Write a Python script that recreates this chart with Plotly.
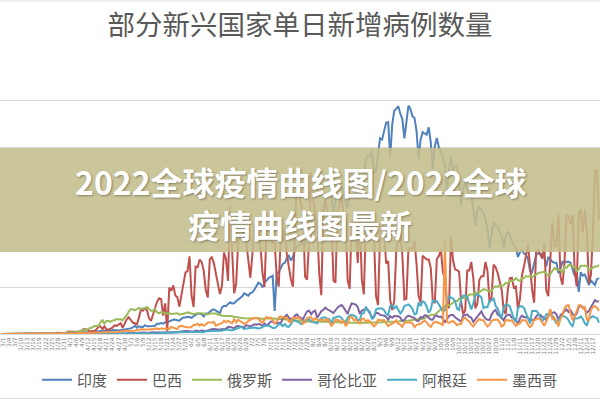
import plotly.graph_objects as go
import pandas as pd

# ---------------- categories (daily, 2020-02-29 .. 2020-12-20) ----------------
dates = pd.date_range("2020-02-29", "2020-12-20", freq="D")
categories = [f"{d.month}/{d.day}" for d in dates]
tick_labels = categories[1:-3:3]

# ---------------- series values (thousands of new cases per day) --------------
india_feb = [0]
india_mar = [0,0,0,0,0,0,0,0,0,0, 0,0,0,0,0,0,0,0,0,0.1, 0.1,0.1,0.1,0.1,0.1,0.1,0.1,0.2,0.1,0.2, 0.3]
india_apr = [0.4,0.4,0.5,0.6,0.5,0.7,0.6,0.5,0.8,0.9, 0.9,0.8,0.8,1.2,1.0,1.1,1.0,1.3,1.5,1.3, 1.5,1.4,1.3,1.7,1.8,1.6,1.5,1.6,1.8,1.9]
india_may = [2.2,2.3,2.4,2.8,3.5,2.7,3.3,3.0,3.0,3.8, 3.3,3.3,3.2,3.4,3.6,4.4,4.4,4.7,4.4,5.0, 5.0,5.5,5.9,6.2,6.1,5.8,5.7,6.5,7.1,7.1, 7.4]
india_jun = [7.3,6.9,7.6,8.2,8.7,8.8,8.4,7.5,8.8,8.8, 9.7,10.2,10.6,10.2,9.5,8.9,11.4,12.0,12.0,12.8, 13.6,13.1,13.2,14.0,14.8,15.2,16.2,17.4,17.0,16.4]
india_jul = [17.5,17.8,19.0,20.5,22.0,21.5,20.0,22.0,23.0,24.0, 24.5,25.0,9.9,26.0,26.5,28.5,30.0,30.5,32.5,33.5, 31.5,33.0,36.0,37.5,38.0,38.5,40.0,38.0,41.0,44.0, 47.0]
india_aug = [50.0,49.0,47.5,48.0,50.0,53.0,58.0,58.5,61.0,59.0, 51.5,58.0,64.0,62.5,63.0,61.5,56.0,54.0,63.0,68.0, 68.0,69.0,69.5,61.0,60.5,67.0,75.0,76.5,76.0,78.5, 69.0]
india_sep = [69.9,78.4,83.9,83.3,86.4,90.6,90.8,75.8,89.7,95.7, 96.6,97.6,94.4,92.1,83.8,90.1,97.9,96.4,93.3,92.6, 86.9,75.1,83.3,86.5,86.1,85.4,88.6,82.2,70.6,80.5]
india_oct = [84.0,80.0,78.0,75.0,73.0,61.0,71.0,76.0,70.0,72.0, 72.0,65.0,55.0,62.0,66.0,62.0,60.0,60.0,54.0,46.5, 53.0,54.5,53.0,52.0,49.0,44.5,37.0,43.0,48.0,46.5, 46.0]
india_nov = [44.0,42.0,37.0,42.0,44.0,42.0,40.0,38.0,37.0,33.0, 35.0,36.0,34.5,34.0,32.0,27.0,26.5,31.0,34.0,34.5, 34.5,34.0,33.0,29.0,33.0,32.0,31.0,30.5,30.5,26.0]
india_dec = [28.0,31.0,30.5,31.0,31.0,30.5,28.0,25.0,27.0,18.0, 26.5,25.0,25.5,23.5,21.0,23.0,22.0,21.0,23.5,24.0]

brazil_feb = [0]
brazil_mar = [0,0,0,0,0,0,0,0,0,0, 0,0,0,0,0.1,0,0,0.1,0.1,0.1, 0.2,0.3,0.2,0.3,0.3,0.3,0.2,0.5,0.5,0.5, 0.4]
brazil_apr = [0.3,1.1,1.1,1.0,1.2,1.1,0.9,0.9,1.6,2.2, 1.9,1.8,1.1,1.2,1.3,1.8,3.1,3.3,2.1,3.3, 1.9,1.9,2.3,2.7,3.7,3.5,4.0,4.7,2.6,4.6]
brazil_may = [6.3,7.2,6.2,4.9,4.6,4.1,6.9,10.5,10.0,11.1, 10.2,6.8,5.6,8.6,11.4,13.9,15.3,14.9,7.9,13.1, 1.2,19.9,18.5,20.8,16.5,15.8,11.7,16.3,20.6,26.4, 26.9]
brazil_jun = [33.3,16.4,11.6,28.9,28.6,31.9,30.8,27.1,18.9,15.7, 32.1,32.9,30.4,25.9,21.7,17.1,20.6,34.9,32.2,22.8, 54.8,34.7,17.5,21.4,39.4,42.7,39.5,46.9,38.7,30.5]
brazil_jul = [24.1,33.8,46.7,48.1,42.2,37.9,26.1,20.2,45.3,45.0, 42.6,39.0,39.0,24.8,20.3,41.9,39.9,45.4,34.2,28.5, 23.5,20.3,41.0,67.9,59.9,55.9,51.1,24.6,23.3,40.8, 69.1]
brazil_aug = [57.8,52.4,45.4,25.8,16.6,51.6,57.2,53.1,50.2,49.9, 23.0,22.0,52.2,55.2,60.1,50.6,49.3,23.1,19.4,47.8, 49.3,45.3,30.4,50.0,23.4,17.0,47.1,47.8,44.2,41.4, 41.3]
brazil_sep = [16.2,12.4,42.7,46.9,43.8,30.2,31.3,14.5,10.3,14.3, 35.8,40.6,43.7,33.5,14.8,15.2,36.7,36.8,36.3,39.8, 30.0,16.4,13.4,33.5,32.8,31.9,31.9,28.4,14.3,13.2]
brazil_oct = [32.1,33.4,36.2,26.3,24.0,13.1,11.1,41.9,31.6,27.7, 27.4,26.7,13.6,8.4,10.2,27.2,27.2,30.9,24.1,11.0, 13.0,23.2,24.8,24.8,30.9,26.9,13.5,15.7,29.8,28.6, 26.1]
brazil_nov = [22.3,18.9,10.1,8.6,18.8,23.9,24.1,19.8,20.3,10.9, 15.0,25.0,29.0,33.9,38.3,29.1,19.1,13.4,35.3,35.9, 34.1,32.3,38.4,18.6,16.2,31.1,47.9,37.6,37.6,51.1]
brazil_dec = [24.5,21.1,31.1,50.9,50.4,46.9,51.1,26.8,20.4,51.1, 53.5,43.4,53.3,43.9,21.8,25.2,42.5,70.6,69.8,48.9]

russia_feb = [0]
russia_mar = [0,0,0,0,0,0,0,0,0,0, 0,0,0,0,0,0,0,0,0.1,0.1, 0.1,0.1,0.1,0.1,0.2,0.2,0.2,0.2,0.3,0.3, 0.5]
russia_apr = [0.4,0.8,0.6,0.6,0.7,1.0,1.2,1.2,1.5,1.8, 1.7,2.2,2.6,2.8,3.4,3.4,3.4,4.8,6.1,4.3, 5.6,5.6,5.2,5.8,5.9,6.4,6.2,6.4,5.8,7.1]
russia_may = [7.9,9.6,10.6,10.6,10.1,10.6,11.2,10.8,10.8,11.0, 11.6,10.9,10.0,10.0,10.6,9.2,8.9,9.3,9.3,8.8, 9.0,8.9,8.6,8.6,8.9,8.9,8.3,8.4,8.6,8.9, 9.3]
russia_jun = [9.0,8.9,8.5,8.8,8.7,8.9,8.9,8.6,8.6,8.4, 8.8,8.8,8.7,8.8,8.2,8.2,7.8,7.8,7.9,7.9, 7.7,7.6,7.4,7.2,7.1,6.8,6.9,6.8,6.7,6.7]
russia_jul = [6.6,6.6,6.8,6.6,6.7,6.6,6.4,6.6,6.5,6.6, 6.6,6.6,6.5,6.2,6.4,6.4,6.4,6.2,6.1,6.1, 5.8,5.9,5.8,5.8,5.8,5.8,5.6,5.4,5.5,5.5, 5.5]
russia_aug = [5.4,5.4,5.4,5.2,5.2,5.2,5.2,5.2,5.1,5.1, 5.1,5.0,5.1,5.1,5.1,4.9,4.8,4.8,4.9,4.8, 4.8,4.9,4.9,4.7,4.7,4.7,4.7,4.8,4.9,4.9, 4.7]
russia_sep = [4.7,4.7,4.9,5.0,5.2,5.2,5.2,5.1,5.2,5.4, 5.4,5.4,5.5,5.5,5.5,5.7,5.8,5.9,6.1,6.1, 6.2,6.4,6.4,6.6,6.6,7.5,7.9,8.1,8.2,8.2]
russia_oct = [9.0,10.0,10.6,11.3,11.8,12.6,12.2,12.7,13.4,14.2, 14.1,15.1,15.4,15.4,15.5,15.9,16.9,16.9,16.9,17.8, 17.6,17.9,18.4,19.2,19.0,18.6,18.2,18.5,19.8,20.4, 20.2]
russia_nov = [20.8,20.5,20.9,22.0,21.6,22.8,22.7,23.1,24.0,23.1, 22.8,23.8,24.0,24.8,24.6,24.8,24.4,24.8,25.5,26.1, 26.3,26.2,26.7,25.8,25.2,25.7,26.8,28.3,27.5,27.4]
russia_dec = [27.4,26.4,28.9,28.3,29.6,29.7,28.8,29.0,26.9,27.7, 29.2,29.2,29.3,29.2,27.4,28.0,28.6,28.9,28.9,29.6]

colombia_feb = [0]
colombia_mar = [0,0,0,0,0,0,0,0,0,0, 0,0,0,0,0,0,0,0,0,0, 0,0,0.1,0.1,0.1,0.1,0.1,0.1,0.1,0.1, 0.1]
colombia_apr = [0.1,0.1,0.1,0.1,0.1,0.1,0.1,0.1,0.2,0.2, 0.2,0.1,0.2,0.1,0.1,0.2,0.2,0.2,0.1,0.1, 0.2,0.2,0.2,0.3,0.3,0.2,0.3,0.3,0.3,0.3]
colombia_may = [0.3,0.5,0.4,0.3,0.5,0.3,0.5,0.6,0.6,0.6, 0.4,0.6,0.6,0.7,0.6,0.6,0.6,0.6,0.6,0.7, 0.8,0.9,0.8,0.9,0.9,0.7,1.0,1.2,1.2,1.3, 1.3]
colombia_jun = [1.3,1.1,1.0,1.5,1.4,1.2,1.5,1.4,1.2,1.5, 1.9,2.0,2.1,2.0,1.7,1.8,2.1,2.0,2.3,3.0, 3.0,2.8,2.5,3.2,3.4,3.2,3.1,2.9,3.8,3.6]
colombia_jul = [3.2,3.7,4.2,4.0,4.3,4.1,3.4,4.4,3.7,4.2, 5.3,5.4,4.7,4.6,4.8,4.6,6.6,7.4,8.2,6.9, 6.6,6.1,7.9,8.4,7.3,7.0,6.4,8.2,9.7,10.0, 8.5]
colombia_aug = [9.6,10.0,7.0,8.5,9.8,10.3,11.3,10.6,10.2,9.6, 9.0,10.2,11.3,12.0,12.4,11.4,10.1,8.6,11.1,13.1, 12.9,12.6,11.5,8.6,10.0,10.5,10.7,10.3,8.5,7.2, 7.4]
colombia_sep = [9.1,8.9,8.2,8.0,7.9,7.3,6.1,7.6,7.0,7.7, 7.8,7.6,7.0,5.6,6.0,7.3,7.9,7.5,7.2,6.8, 5.7,5.5,7.3,7.0,8.0,7.9,7.0,6.2,6.1,7.7]
colombia_oct = [7.9,7.3,7.5,6.5,5.2,6.2,7.7,8.1,8.1,7.2, 6.5,6.1,5.3,7.8,8.0,8.4,7.4,7.0,5.2,6.3, 7.4,8.1,9.7,7.8,6.6,6.1,6.0,8.3,9.7,10.3, 8.4]
colombia_nov = [7.7,6.7,5.9,7.6,8.2,8.2,7.0,6.8,6.0,4.3, 6.7,7.9,7.3,7.1,6.9,6.0,5.9,6.1,7.5,8.4, 8.2,7.5,6.7,6.0,8.0,9.0,9.1,9.3,8.4,6.1]
colombia_dec = [8.0,8.9,9.8,10.5,9.5,10.1,8.6,7.8,8.7,11.5, 12.1,11.6,10.4,9.1,9.9,11.6,12.9,14.5,13.9,14.0]

argentina_feb = [0]
argentina_mar = [0,0,0,0,0,0,0,0,0,0, 0,0,0,0,0,0,0,0,0,0, 0,0,0.1,0.1,0.1,0.1,0.1,0.1,0.1,0.1, 0.1]
argentina_apr = [0.1,0.1,0.1,0.1,0.1,0.1,0.1,0.1,0.1,0.1, 0.1,0.1,0.1,0.1,0.1,0.1,0.1,0.1,0.1,0.1, 0.1,0.1,0.1,0.2,0.2,0.1,0.1,0.1,0.2,0.2]
argentina_may = [0.2,0.2,0.2,0.2,0.2,0.2,0.2,0.2,0.2,0.2, 0.2,0.2,0.3,0.3,0.3,0.3,0.3,0.4,0.4,0.5, 0.5,0.6,0.7,0.7,0.7,0.6,0.7,0.8,0.8,0.7, 0.8]
argentina_jun = [0.6,0.9,0.9,0.9,0.9,1.0,0.9,0.8,1.2,1.2, 1.4,1.4,1.4,1.3,1.2,1.4,1.4,1.9,1.6,2.1, 1.6,1.5,1.9,2.3,2.6,2.9,2.9,2.1,2.4,2.6]
argentina_jul = [2.7,2.7,2.8,2.5,2.4,2.6,2.9,3.6,3.6,3.5, 3.2,2.6,2.6,3.1,4.3,4.2,3.4,4.2,3.2,3.0, 4.2,5.8,5.8,5.5,5.0,4.2,4.9,5.9,5.9,6.4, 5.3]
argentina_aug = [5.0,4.8,4.6,6.0,6.8,7.1,7.1,6.2,6.4,4.4, 7.0,7.0,7.5,7.5,6.9,5.6,5.0,6.8,8.0,8.2, 8.0,7.4,5.7,6.3,8.7,9.0,11.7,10.1,9.5,6.3, 7.2]
argentina_sep = [10.5,10.9,10.9,10.9,10.2,8.6,8.0,12.0,12.3,11.0, 11.9,10.0,8.8,9.9,12.0,12.3,12.7,11.9,10.7,8.4, 8.8,13.5,12.0,14.0,13.5,11.7,9.1,10.5,14.4,14.0]
argentina_oct = [14.1,12.6,11.1,9.6,10.2,14.0,16.4,15.5,15.3,14.1, 10.8,10.3,15.3,16.4,16.5,15.9,13.4,10.5,13.2,16.5, 17.1,16.3,15.7,11.1,11.6,11.5,14.3,14.4,15.2,12.1, 10.9]
argentina_nov = [8.5,7.0,11.3,12.7,12.5,11.8,9.3,6.2,5.3,11.0, 11.8,11.9,11.1,9.0,6.5,4.5,9.9,9.9,10.0,9.0, 7.4,5.4,6.6,8.4,8.6,8.0,7.9,5.8,4.5,6.0]
argentina_dec = [7.3,7.9,7.6,7.0,5.9,4.2,3.4,6.7,6.6,6.8, 7.5,6.5,4.6,3.6,6.5,7.2,7.6,7.1,6.8,4.9]

mexico_feb = [0]
mexico_mar = [0,0,0,0,0,0,0,0,0,0, 0,0,0,0,0,0,0,0,0,0, 0,0,0.1,0.1,0.1,0.1,0.1,0.1,0.1,0.1, 0.1]
mexico_apr = [0.2,0.2,0.2,0.2,0.1,0.3,0.3,0.4,0.4,0.4, 0.4,0.3,0.4,0.4,0.6,0.4,0.5,0.6,0.8,0.8, 0.8,0.7,1.0,0.8,1.0,1.0,0.9,1.2,1.4,1.3]
mexico_may = [1.4,1.5,1.4,1.4,1.4,1.6,1.9,2.0,1.9,1.9, 1.6,1.9,2.0,2.0,2.4,2.1,2.1,2.4,2.4,2.2, 2.2,2.2,3.0,2.7,2.7,2.1,3.4,3.5,3.2,3.2, 2.9]
mexico_jun = [2.8,3.0,3.9,3.9,4.4,3.6,4.3,3.5,4.0,4.9, 4.9,4.8,5.2,3.5,4.0,4.3,4.6,5.7,5.0,5.7, 5.3,4.6,6.3,5.0,6.1,5.4,5.0,4.4,4.9,5.4]
mexico_jul = [5.9,6.7,6.7,6.9,6.6,5.4,4.9,6.3,7.3,6.9, 7.0,6.1,4.5,5.3,7.1,7.6,7.1,6.9,7.0,5.3, 5.1,7.0,6.8,6.8,7.0,6.0,4.4,5.1,6.8,7.2, 7.2]
mexico_aug = [5.7,6.8,6.1,5.6,6.1,6.1,5.6,6.5,5.1,3.5, 4.4,6.1,6.0,5.8,4.7,6.0,3.4,4.4,7.2,7.5, 5.9,6.3,5.2,4.5,6.5,6.5,5.3,6.0,5.3,4.3, 3.2]
mexico_sep = [4.1,6.1,5.9,5.8,5.9,4.5,3.4,4.0,4.5,5.0, 5.9,4.4,4.0,3.0,4.8,4.8,5.1,5.0,4.5,2.9, 3.9,4.2,4.4,5.2,5.7,5.0,3.7,3.0,4.5,5.1]
mexico_oct = [5.1,4.7,4.4,3.7,40.0,5.1,4.8,5.3,5.6,4.7, 3.8,4.3,4.3,6.6,7.0,6.0,5.4,4.0,3.2,4.6, 5.7,6.4,6.0,5.9,4.4,3.2,4.0,5.6,6.1,6.3, 6.2]
mexico_nov = [5.0,3.2,3.8,5.9,6.0,5.6,5.9,4.5,3.4,4.2, 4.5,6.0,5.8,5.8,4.0,3.0,3.8,6.0,6.2,6.7, 6.3,4.6,3.5,5.4,7.5,10.7,6.4,7.0,5.5,3.3]
mexico_dec = [6.4,8.0,11.0,12.1,12.3,8.6,5.9,7.5,9.6,12.3, 12.3,11.0,11.5,6.2,6.0,10.3,11.5,12.0,11.2,9.9]

def join(*months):
    out = []
    for m in months:
        out.extend(m)
    return out

india = join(india_feb, india_mar, india_apr, india_may, india_jun, india_jul, india_aug, india_sep, india_oct, india_nov, india_dec)
brazil = join(brazil_feb, brazil_mar, brazil_apr, brazil_may, brazil_jun, brazil_jul, brazil_aug, brazil_sep, brazil_oct, brazil_nov, brazil_dec)
russia = join(russia_feb, russia_mar, russia_apr, russia_may, russia_jun, russia_jul, russia_aug, russia_sep, russia_oct, russia_nov, russia_dec)
colombia = join(colombia_feb, colombia_mar, colombia_apr, colombia_may, colombia_jun, colombia_jul, colombia_aug, colombia_sep, colombia_oct, colombia_nov, colombia_dec)
argentina = join(argentina_feb, argentina_mar, argentina_apr, argentina_may, argentina_jun, argentina_jul, argentina_aug, argentina_sep, argentina_oct, argentina_nov, argentina_dec)
mexico = join(mexico_feb, mexico_mar, mexico_apr, mexico_may, mexico_jun, mexico_jul, mexico_aug, mexico_sep, mexico_oct, mexico_nov, mexico_dec)

series_names = ["印度", "巴西", "俄罗斯", "哥伦比亚", "阿根廷", "墨西哥"]
series_values = [india, brazil, russia, colombia, argentina, mexico]
series_colors = ["#4F81BD", "#C0504D", "#9BBB59", "#8064A2", "#4BACC6", "#F79646"]

for n, v in zip(series_names, series_values):
    assert len(v) == len(categories), (n, len(v), len(categories))

title_text = "部分新兴国家单日新增病例数量"
banner_line1 = "2022全球疫情曲线图/2022全球"
banner_line2 = "疫情曲线图最新"

FONT = "Noto Sans CJK SC, Noto Sans, sans-serif"

fig = go.Figure()
for n, v, c in zip(series_names, series_values, series_colors):
    fig.add_trace(go.Scatter(x=categories, y=v, name=n, mode="lines",
                             line=dict(color=c, width=2)))

# plot area: y from 54px (top) to 334px (bottom), full width
def py(px):
    return (334 - px) / 280.0

banner_font = dict(family=FONT, size=32, color="white", shadow="1px 1px 2px rgba(0,0,0,0.35)")

fig.update_layout(
    width=600, height=400,
    margin=dict(l=0, r=0, t=54, b=66, autoexpand=False),
    paper_bgcolor="white", plot_bgcolor="white",
    title=dict(text=title_text, x=0.5, xanchor="center", y=1 - 25 / 400, yanchor="middle",
               font=dict(family=FONT, size=27.5, color="#595959")),
    showlegend=True,
    legend=dict(orientation="h", x=0.5, xanchor="center", y=py(380), yanchor="middle",
                font=dict(family=FONT, size=15, color="#595959"), bgcolor="rgba(0,0,0,0)"),
    xaxis=dict(type="category", range=[-0.5, len(categories) - 0.5], tickmode="array",
               tickvals=tick_labels, ticktext=tick_labels, tickangle=-90,
               tickfont=dict(family="DejaVu Sans", size=6, color="#7F7F7F"),
               showgrid=False, showline=True, linecolor="#D9D9D9", ticks="", automargin=False,
               fixedrange=True),
    yaxis=dict(range=[0, 120], dtick=20, showgrid=True, gridcolor="#D9D9D9", gridwidth=1,
               showticklabels=False, zeroline=False, showline=False, automargin=False,
               fixedrange=True),
    hovermode=False,
    shapes=[
        dict(type="rect", xref="paper", yref="paper", x0=0, x1=1, y0=py(252), y1=py(148),
             fillcolor="rgba(196,189,140,0.88)", line=dict(width=0), layer="above"),
        dict(type="line", xref="paper", yref="paper", x0=0, x1=1, y0=py(1), y1=py(1),
             line=dict(color="#E0E0E0", width=1)),
        dict(type="line", xref="paper", yref="paper", x0=0, x1=1, y0=py(398.5), y1=py(398.5),
             line=dict(color="#E0E0E0", width=1)),
    ],
    annotations=[
        dict(text="<b>" + banner_line1 + "</b>", xref="paper", yref="paper", x=0.5, y=py(181),
             xanchor="center", yanchor="middle", showarrow=False, font=banner_font),
        dict(text="<b>" + banner_line2 + "</b>", xref="paper", yref="paper", x=0.5, y=py(224),
             xanchor="center", yanchor="middle", showarrow=False, font=banner_font),
    ],
)

fig.write_html("out.html", config={"displayModeBar": False})
